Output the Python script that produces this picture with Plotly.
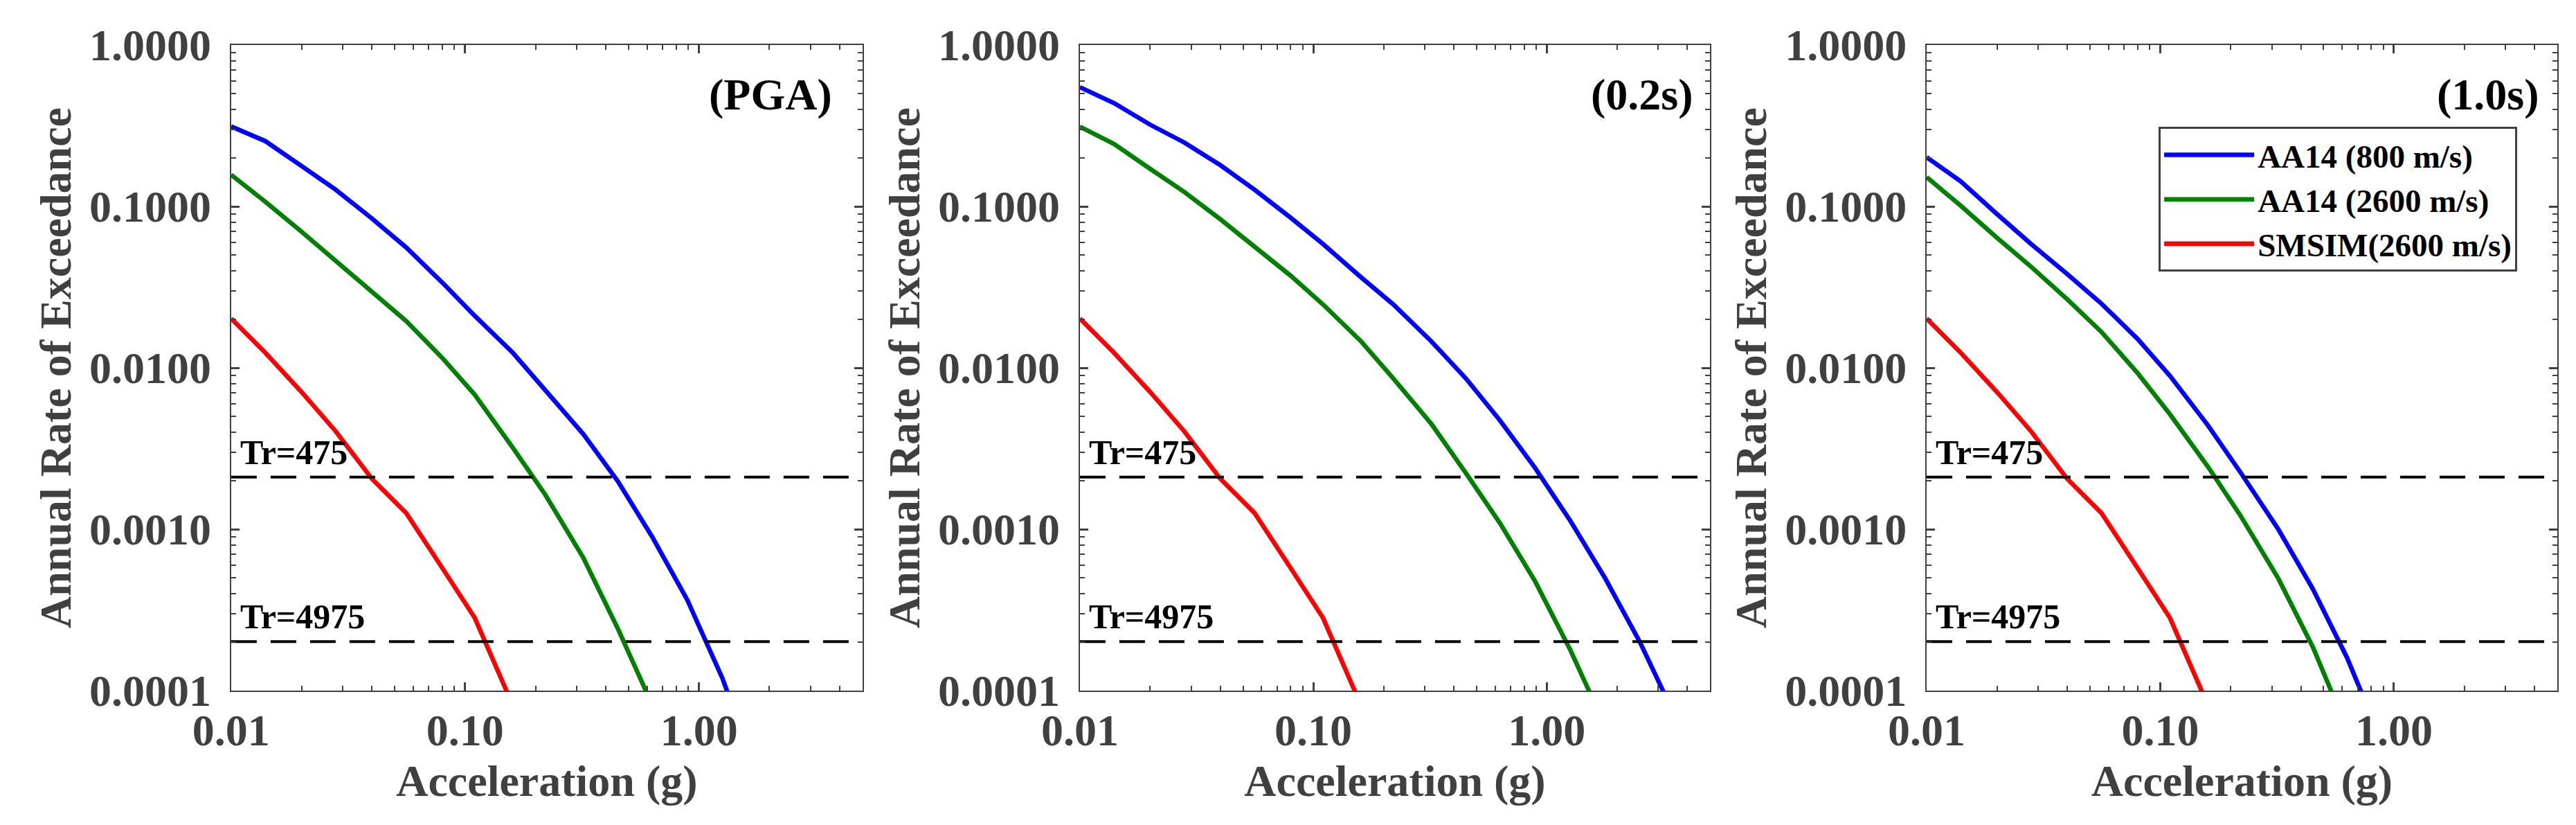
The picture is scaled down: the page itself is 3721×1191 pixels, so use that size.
import numpy as np
import plotly.graph_objects as go

# hazard curves (annual rate of exceedance vs acceleration in g)
accel = [0.01, 0.014, 0.02, 0.028, 0.04, 0.056, 0.08, 0.11, 0.16, 0.22,
         0.32, 0.45, 0.63, 0.89, 1.26, 1.78, 2.5, 3.5]

pga_aa14_800 = [0.313, 0.254, 0.178, 0.127, 0.0841, 0.0557, 0.0337, 0.021, 0.0124,
                0.00735, 0.00389, 0.00198, 0.0009, 0.000366, 0.000119, 3.0e-5]
pga_aa14_2600 = [0.157, 0.107, 0.0698, 0.0461, 0.0294, 0.0195, 0.0115, 0.00682,
                 0.0032, 0.00164, 0.000667, 0.000242, 8.2e-5]

sa02_aa14_800 = [0.548, 0.437, 0.321, 0.249, 0.180, 0.127, 0.0851, 0.0585, 0.0364,
                 0.0247, 0.0146, 0.0086, 0.00472, 0.0024, 0.00113, 0.000495,
                 0.000201, 7.2e-5]
sa02_aa14_2600 = [0.312, 0.244, 0.171, 0.123, 0.0832, 0.0562, 0.0372, 0.0247, 0.0146,
                  0.0086, 0.0045, 0.00223, 0.00109, 0.000477, 0.000179, 6.0e-5]

sa10_aa14_800 = [0.202, 0.143, 0.0897, 0.0585, 0.0381, 0.025, 0.0151, 0.00893,
                 0.0044, 0.00226, 0.001, 0.000426, 0.00016, 4.8e-5]
sa10_aa14_2600 = [0.152, 0.101, 0.064, 0.0423, 0.0266, 0.0167, 0.00927, 0.00516,
                  0.00244, 0.00122, 0.000495, 0.000186, 5.8e-5]

smsim_2600 = [0.0202, 0.0124, 0.00708, 0.00404, 0.00205, 0.00126, 0.000574,
              0.000282, 8.1e-5]

panel_labels = ["(PGA)", "(0.2s)", "(1.0s)"]
series_names = ["AA14 (800 m/s)", "AA14 (2600 m/s)", "SMSIM(2600 m/s)"]
series_colors = ["#0000ff", "#008000", "#ff0000"]
return_periods = [475, 4975]

x_range = [0.01, 5.0]
y_ticks = [0.0001, 0.001, 0.01, 0.1, 1.0]
y_ticktext = ["0.0001", "0.0010", "0.0100", "0.1000", "1.0000"]
x_ticks = [0.01, 0.1, 1.0]
x_ticktext = ["0.01", "0.10", "1.00"]

panels = [
    [pga_aa14_800, pga_aa14_2600, smsim_2600],
    [sa02_aa14_800, sa02_aa14_2600, smsim_2600],
    [sa10_aa14_800, sa10_aa14_2600, smsim_2600],
]

W, H = 3721, 1191
x_domains = [[0.0783, 0.3281], [0.4141, 0.6634], [0.7491, 0.9986]]
y_domain = [0.1595, 0.9763]
label_x = [0.954, 0.976, 0.974]

gray = "#404040"
serif = "Liberation Serif"

fig = go.Figure()

for i, curves in enumerate(panels):
    sfx = "" if i == 0 else str(i + 1)
    for name, color, vals in zip(series_names, series_colors, curves):
        fig.add_trace(go.Scatter(
            x=accel[:len(vals)], y=vals, mode="lines", name=name,
            line=dict(color=color, width=6.5),
            xaxis="x" + sfx, yaxis="y" + sfx,
            showlegend=(i == 2)))
    for tr in return_periods:
        fig.add_trace(go.Scatter(
            x=x_range, y=[1.0 / tr, 1.0 / tr], mode="lines",
            line=dict(color="black", width=4, dash="37px,20px"),
            xaxis="x" + sfx, yaxis="y" + sfx, showlegend=False, hoverinfo="skip"))
        fig.add_annotation(
            text="<b>Tr=%d</b>" % tr, xref="x%s domain" % sfx, yref="y" + sfx,
            x=0.012, y=np.log10(1.0 / tr), xanchor="left", yanchor="bottom", yshift=6,
            showarrow=False, font=dict(family=serif, size=50, color="black"))
    fig.add_annotation(
        text="<b>%s</b>" % panel_labels[i], xref="x%s domain" % sfx, yref="y%s domain" % sfx,
        x=label_x[i], y=0.923, xanchor="right", yanchor="middle",
        showarrow=False, font=dict(family=serif, size=64, color="black"))

    axis_common = dict(
        type="log", showline=True, linecolor=gray, linewidth=2, mirror="ticks",
        ticks="inside", ticklen=12, tickwidth=2.5, tickcolor=gray,
        showgrid=False, zeroline=False, automargin=False,
        tickfont=dict(family=serif, size=64, color=gray, weight="bold"),
        minor=dict(ticks="inside", ticklen=7, tickwidth=2, tickcolor=gray,
                   dtick="D1", showgrid=False),
    )
    fig.update_layout({
        "xaxis" + sfx: dict(
            axis_common, domain=x_domains[i], anchor="y" + sfx,
            range=[np.log10(x_range[0]), np.log10(x_range[1])],
            tickvals=x_ticks, ticktext=x_ticktext, ticklabelstandoff=0,
            title=dict(text="<b>Acceleration (g)</b>", standoff=15,
                       font=dict(family=serif, size=64, color=gray))),
        "yaxis" + sfx: dict(
            axis_common, domain=y_domain, anchor="x" + sfx,
            range=[-4, 0], tickvals=y_ticks, ticktext=y_ticktext, ticklabelstandoff=14,
            title=dict(text="<b>Annual Rate of Exceedance</b>", standoff=6,
                       font=dict(family=serif, size=64, color=gray))),
    })

fig.update_layout(
    width=W, height=H,
    margin=dict(l=40, r=30, t=30, b=20),
    paper_bgcolor="white", plot_bgcolor="white",
    legend=dict(x=0.8409, y=0.8725, xanchor="left", yanchor="top",
                bordercolor=gray, borderwidth=3, bgcolor="white",
                itemwidth=130, tracegroupgap=0,
                font=dict(family=serif, size=47, color="black", weight="bold")),
)

fig.write_html("out.html")
